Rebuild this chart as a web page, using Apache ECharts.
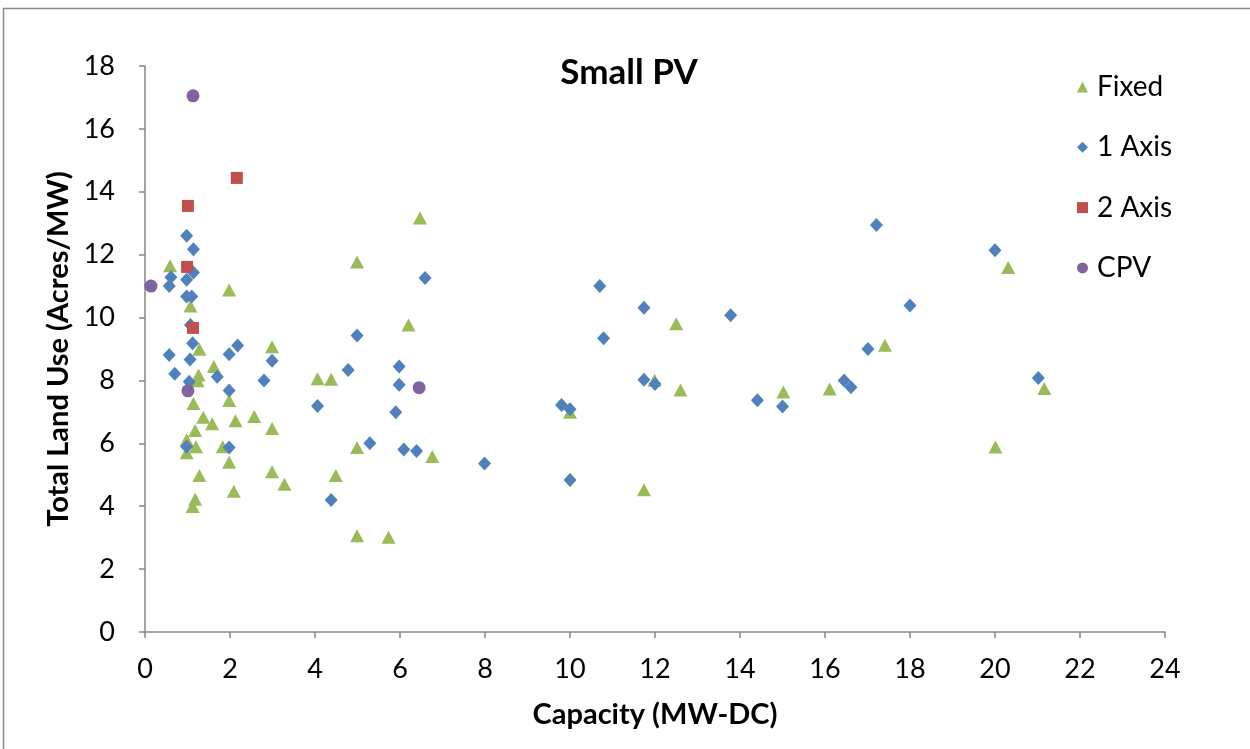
<!DOCTYPE html>
<html><head><meta charset="utf-8">
<script src="https://cdn.jsdelivr.net/npm/echarts@6/dist/echarts.min.js"></script>
<style>html,body{margin:0;padding:0;background:#fff}#c{width:1250px;height:749px}</style>
</head><body><div id="c"></div>
<script>
const seriesNames = ['Fixed', '1 Axis', '2 Axis', 'CPV'];
const xTicks = [0,2,4,6,8,10,12,14,16,18,20,22,24];
const yTicks = [0,2,4,6,8,10,12,14,16,18];

const fixedData = [
  [0.59,11.65],[1.98,10.88],[1.07,10.37],[1.28,8.99],[2.99,9.07],[1.62,8.44],[1.26,8.17],[1.24,7.99],
  [4.06,8.05],[4.38,8.04],[1.14,7.27],[1.98,7.36],[1.37,6.83],[1.58,6.62],[2.13,6.72],[2.57,6.85],
  [2.99,6.47],[1.18,6.41],[0.98,6.11],[1.2,5.89],[0.98,5.7],[1.83,5.89],[1.98,5.4],[2.99,5.1],
  [1.28,4.98],[3.28,4.7],[2.09,4.48],[1.18,4.22],[1.12,3.99],[6.2,9.76],[4.99,5.87],[6.76,5.58],
  [4.49,4.98],[4.99,3.06],[5.73,3.01],[6.47,13.17],[4.99,11.77],[12.5,9.8],[11.99,8.01],[12.6,7.7],
  [10.0,6.99],[11.74,4.52],[20.31,11.59],[17.41,9.12],[16.11,7.73],[15.02,7.63],[20.01,5.88],[21.16,7.74]
];
const oneAxisData = [
  [0.98,12.6],[1.14,12.17],[0.61,11.28],[0.57,11.0],[0.98,11.2],[1.14,11.43],[0.98,10.67],[1.1,10.67],
  [1.07,9.76],[1.12,9.18],[2.18,9.11],[1.98,8.83],[0.57,8.81],[1.06,8.67],[2.99,8.63],[0.70,8.21],
  [1.70,8.12],[2.8,8.0],[1.04,7.96],[1.98,7.68],[4.06,7.19],[0.98,5.89],[1.98,5.87],[4.38,4.2],
  [4.99,9.43],[4.78,8.33],[5.98,8.44],[5.98,7.86],[5.9,6.99],[5.29,6.0],[6.09,5.8],[6.39,5.76],
  [7.99,5.36],[6.59,11.26],[10.7,11.0],[11.74,10.31],[13.78,10.07],[10.79,9.34],[11.74,8.02],[12.0,7.89],
  [9.8,7.22],[10.0,7.08],[10.0,4.83],[17.21,12.94],[20.0,12.14],[18.0,10.38],[17.01,9.0],[16.45,8.0],
  [16.61,7.78],[14.41,7.37],[15.0,7.17],[21.02,8.08]
];
const twoAxisData = [[2.16,14.44],[1.01,13.55],[0.99,11.61],[1.13,9.67]];
const cpvData = [[1.13,17.05],[0.14,11.0],[1.01,7.67],[6.45,7.77]];

const font = 'Lato, "Open Sans", sans-serif';
const chart = echarts.init(document.getElementById('c'));
const axisCol = '#868686';
chart.setOption({
  animation: false,
  backgroundColor: '#fff',
  graphic: [{type:'rect', shape:{x:3.5,y:8.5,width:1260,height:760}, style:{fill:'none', stroke:'#8c8c8c', lineWidth:1.5}, z:-1}],
  title: {text:'Small PV', left:624, top:50, textAlign:'center',
    textStyle:{fontFamily:font, fontSize:35, fontWeight:'bold', color:'#000'}},
  legend: {orient:'vertical', left:1072, top:68, itemGap:32.3, itemWidth:11, itemHeight:11,
    textStyle:{fontFamily:font, fontSize:28, color:'#000', padding:[0,0,0,4]},
    data:[{name:'Fixed', icon:'triangle'},{name:'1 Axis', icon:'diamond'},{name:'2 Axis', icon:'rect'},{name:'CPV', icon:'circle'}]},
  grid: {left:145, right:85, top:66, bottom:117},
  xAxis: {type:'value', min:xTicks[0], max:xTicks[xTicks.length-1], interval:2,
    name:'Capacity (MW-DC)', nameLocation:'middle', nameGap:68,
    nameTextStyle:{fontFamily:font, fontSize:29, fontWeight:'bold', color:'#000'},
    axisLine:{show:true, onZero:false, lineStyle:{color:axisCol, width:1.5}},
    axisTick:{show:true, inside:false, length:6, lineStyle:{color:axisCol, width:1.5}},
    axisLabel:{fontFamily:font, fontSize:27, color:'#000', margin:24},
    splitLine:{show:false}},
  yAxis: {type:'value', min:yTicks[0], max:yTicks[yTicks.length-1], interval:2,
    name:'Total Land Use (Acres/MW)', nameLocation:'middle', nameGap:72,
    nameTextStyle:{fontFamily:font, fontSize:29, fontWeight:'bold', color:'#000'},
    axisLine:{show:true, lineStyle:{color:axisCol, width:1.5}},
    axisTick:{show:true, inside:false, length:6, lineStyle:{color:axisCol, width:1.5}},
    axisLabel:{fontFamily:font, fontSize:27, color:'#000', margin:30},
    splitLine:{show:false}},
  series: [
    {name:seriesNames[0], type:'scatter', symbol:'triangle', symbolSize:[14,13], data:fixedData, itemStyle:{color:'#9BBB59', opacity:1}},
    {name:seriesNames[1], type:'scatter', symbol:'diamond', symbolSize:[13,14], data:oneAxisData, itemStyle:{color:'#4F81BD', opacity:1}},
    {name:seriesNames[2], type:'scatter', symbol:'rect', symbolSize:12, data:twoAxisData, itemStyle:{color:'#C0504D', opacity:1}},
    {name:seriesNames[3], type:'scatter', symbol:'circle', symbolSize:13, data:cpvData, itemStyle:{color:'#8064A2', opacity:1}}
  ]
});
</script></body></html>
